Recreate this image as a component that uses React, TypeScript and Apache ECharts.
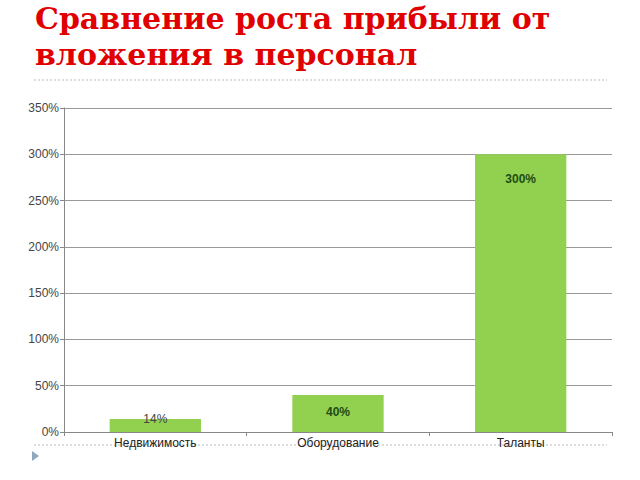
import React, { useEffect, useRef } from "react";
import * as echarts from "echarts";

const categories = ["Недвижимость", "Оборудование", "Таланты"];
const values = [14, 40, 300];
const valueLabels = ["14%", "40%", "300%"];
const titleLines = ["Сравнение роста прибыли от", "вложения в персонал"];

export default function App() {
  const ref = useRef<HTMLDivElement>(null);
  useEffect(() => {
    if (!ref.current) return;
    const chart = echarts.init(ref.current, null, { renderer: "svg" });
    const labelStyles = [
      { position: "top", distance: -6, color: "#444444", fontWeight: "normal" },
      { position: "insideTop", distance: 11, color: "#1f4d13", fontWeight: "bold" },
      { position: "insideTop", distance: 19, color: "#1f4d13", fontWeight: "bold" },
    ];
    chart.setOption({
      animation: false,
      backgroundColor: "#ffffff",
      title: {
        text: titleLines.join("\n"),
        left: 30,
        top: 0,
        padding: [0, 5, 5, 5],
        textStyle: {
          fontFamily: "DejaVu Serif",
          fontWeight: "bold",
          fontSize: 30,
          lineHeight: 36,
          color: "#e00000",
        },
      },
      graphic: [
        {
          type: "line",
          shape: { x1: 34, y1: 80, x2: 607, y2: 80 },
          style: { stroke: "#bbbbbb", lineWidth: 1, lineDash: [2, 2] },
        },
        {
          type: "line",
          shape: { x1: 34, y1: 445, x2: 607, y2: 445 },
          style: { stroke: "#bbbbbb", lineWidth: 1, lineDash: [2, 2] },
          z: -1,
        },
        {
          type: "polygon",
          shape: { points: [[32, 451], [32, 461], [39, 456]] },
          style: { fill: "#8fa8c0" },
        },
      ],
      grid: { left: 64, right: 28, top: 108, bottom: 48, containLabel: false },
      xAxis: {
        type: "category",
        data: categories,
        axisLine: { lineStyle: { color: "#888888" } },
        axisTick: { show: true, length: 4, lineStyle: { color: "#888888" } },
        axisLabel: { color: "#222222", fontSize: 12, fontFamily: "Liberation Sans", margin: 5 },
      },
      yAxis: {
        type: "value",
        min: 0,
        max: 350,
        interval: 50,
        axisLine: { show: true, lineStyle: { color: "#888888" } },
        axisTick: { show: true, length: 4, lineStyle: { color: "#888888" } },
        axisLabel: {
          formatter: "{value}%",
          color: "#444444",
          fontSize: 12,
          fontFamily: "Liberation Sans",
          margin: 5,
        },
        splitLine: { lineStyle: { color: "#999999", width: 1 } },
      },
      series: [
        {
          type: "bar",
          barWidth: "50%",
          itemStyle: { color: "#92d050" },
          data: values.map((v, i) => ({
            value: v,
            label: {
              show: true,
              formatter: valueLabels[i],
              fontSize: 12,
              fontFamily: "Liberation Sans",
              ...labelStyles[i],
            },
          })),
        },
      ],
    });
    return () => chart.dispose();
  }, []);
  return (
    <div
      ref={ref}
      style={{ position: "fixed", left: 0, top: 0, width: 640, height: 480 }}
    />
  );
}
